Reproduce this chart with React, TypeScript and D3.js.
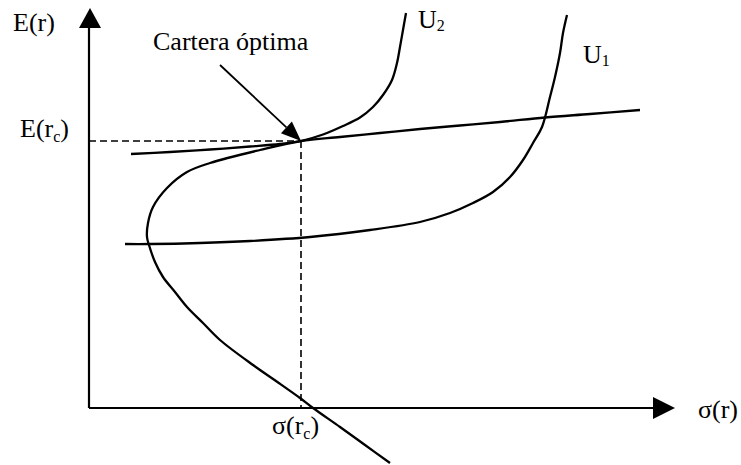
import React, { useEffect } from "react";
import * as d3 from "d3";

// Values in chart units: sigma (x) and E (y), origin at the axes' crossing
const frontierSigma = [551, 501, 456, 411, 371, 331, 291, 251, 212, 171, 121, 98, 78, 64, 59, 58, 60, 66, 74, 86, 98, 114, 131, 164, 187, 211, 224, 251, 276, 301];
const frontierE = [298, 294, 290.5, 286, 282.5, 279, 275, 271, 267, 258, 245, 236, 220, 201, 185, 171, 163, 146, 131, 116, 101, 85, 68, 43, 27, 10, 0, -19, -37, -55];

const u2Sigma = [42, 81, 121, 161, 191, 212, 234, 254, 271, 284, 294, 303, 308, 311, 314, 317];
const u2E = [254, 256, 258.5, 261.5, 264, 267, 273.5, 282, 290.5, 301, 313, 328, 345, 361, 378, 395];

const u1Sigma = [36, 61, 111, 161, 221, 281, 331, 361, 384, 404, 421, 434, 444, 453, 461, 466, 471, 474, 478];
const u1E = [164, 164, 165, 167, 171, 178, 186, 195, 205, 216, 231, 248, 265, 281, 311, 331, 355, 375, 393];

const optimalSigma = 212;
const optimalE = 267;
const arrowStart = [131, 343];

const W = 741;
const H = 465;
const FONT = "Liberation Serif, Times New Roman, serif";

export default function App() {
  useEffect(() => {
    document.body.style.margin = "0";
  }, []);

  const x = d3.scaleLinear().domain([0, 586]).range([89, 675]);
  const y = d3.scaleLinear().domain([0, 400]).range([408, 8]);

  const line = d3
    .line<[number, number]>()
    .x((d) => x(d[0]))
    .y((d) => y(d[1]))
    .curve(d3.curveCatmullRom.alpha(0.5));

  const frontier = frontierSigma.map((s, i) => [s, frontierE[i]] as [number, number]);
  const u2 = u2Sigma.map((s, i) => [s, u2E[i]] as [number, number]);
  const u1 = u1Sigma.map((s, i) => [s, u1E[i]] as [number, number]);

  const ox = x(0);
  const oy = y(0);
  const yTop = y(400);
  const xEnd = x(586);

  // annotation arrow
  const ax0 = x(arrowStart[0]);
  const ay0 = y(arrowStart[1]);
  const ax1 = x(optimalSigma);
  const ay1 = y(optimalE);
  const ang = Math.atan2(ay1 - ay0, ax1 - ax0);
  const hl = 20;
  const hw = 8;
  const bx = ax1 - hl * Math.cos(ang);
  const by = ay1 - hl * Math.sin(ang);
  const px = -Math.sin(ang);
  const py = Math.cos(ang);
  const headPts = `${ax1},${ay1} ${bx + hw * px},${by + hw * py} ${bx - hw * px},${by - hw * py}`;

  const tp = { fontFamily: FONT, fontSize: 26, fill: "#000" };

  return (
    <svg width={W} height={H} style={{ position: "absolute", left: 0, top: 0, background: "#fff" }}>
      <rect width={W} height={H} fill="#fff" />
      {/* dashed guides */}
      <line x1={ox} y1={y(optimalE)} x2={x(optimalSigma)} y2={y(optimalE)} stroke="#000" strokeWidth={1.6} strokeDasharray="7,4" />
      <line x1={x(optimalSigma)} y1={y(optimalE)} x2={x(optimalSigma)} y2={oy} stroke="#000" strokeWidth={1.6} strokeDasharray="7,4" />

      {/* axes */}
      <line x1={ox} y1={oy} x2={ox} y2={yTop + 18} stroke="#000" strokeWidth={2.2} />
      <polygon points={`${ox + 1},${yTop} ${ox - 10},${yTop + 20} ${ox + 12},${yTop + 20}`} fill="#000" />
      <line x1={ox} y1={oy} x2={xEnd - 20} y2={oy} stroke="#000" strokeWidth={2.2} />
      <polygon points={`${xEnd},${oy} ${xEnd - 22},${oy - 11} ${xEnd - 22},${oy + 11}`} fill="#000" />

      {/* curves */}
      <path d={line(frontier) || ""} fill="none" stroke="#000" strokeWidth={2.3} />
      <path d={line(u2) || ""} fill="none" stroke="#000" strokeWidth={2.3} />
      <path d={line(u1) || ""} fill="none" stroke="#000" strokeWidth={2.3} />

      {/* annotation arrow */}
      <line x1={ax0} y1={ay0} x2={bx} y2={by} stroke="#000" strokeWidth={1.8} />
      <polygon points={headPts} fill="#000" />

      {/* labels */}
      <text x={13} y={31} {...tp}>E(r)</text>
      <text x={20} y={y(optimalE) - 4} {...tp}>
        E(r<tspan fontSize={16} dy={5}>c</tspan><tspan dy={-5}>)</tspan>
      </text>
      <text x={698} y={oy + 10} {...tp}>σ(r)</text>
      <text x={x(optimalSigma) - 29} y={oy + 26} {...tp}>
        σ(r<tspan fontSize={16} dy={5}>c</tspan><tspan dy={-5}>)</tspan>
      </text>
      <text x={418} y={28} {...tp}>
        U<tspan fontSize={16} dy={3}>2</tspan>
      </text>
      <text x={583} y={63} {...tp}>
        U<tspan fontSize={16} dy={3}>1</tspan>
      </text>
      <text x={153} y={50} {...tp}>Cartera óptima</text>
    </svg>
  );
}
